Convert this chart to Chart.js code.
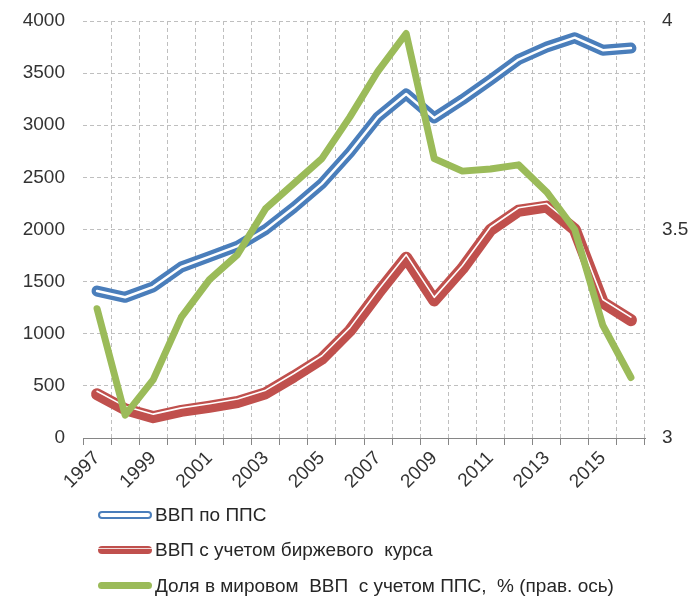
<!DOCTYPE html>
<html>
<head>
<meta charset="utf-8">
<script src="https://cdn.jsdelivr.net/npm/chart.js@4/dist/chart.umd.min.js"></script>
<style>
  body { margin: 0; background: #fff; }
  #wrap { position: relative; width: 691px; height: 598px; }
  #legend { position: absolute; left: 98px; top: 497px; font-family: "Liberation Sans", Arial, sans-serif; font-size: 19px; color: #262626; }
  .item { display: flex; align-items: center; height: 35.5px; }
  .swatch { width: 54px; margin-right: 3px; box-sizing: border-box; border-radius: 4px; }
  .blue { height: 8px; background: #fff; border: 2.5px solid #4A7EBB; }
  .red { height: 8px; background: linear-gradient(#C0504D 0 2px, #f2dcdb 2px 3.5px, #C0504D 3.5px); }
  .green { height: 7px; background: #9BBB59; }
</style>
</head>
<body>
<div id="wrap">
  <canvas id="myChart" width="691" height="598"></canvas>
  <div id="legend">
    <div class="item"><div class="swatch blue"></div><span>ВВП по ППС</span></div>
    <div class="item"><div class="swatch red"></div><span>ВВП с учетом биржевого&nbsp; курса</span></div>
    <div class="item"><div class="swatch green"></div><span>Доля в мировом&nbsp; ВВП&nbsp; с учетом ППС,&nbsp; % (прав. ось)</span></div>
  </div>
</div>
<script>
const years = ['1997', '1998', '1999', '2000', '2001', '2002', '2003', '2004', '2005', '2006',
               '2007', '2008', '2009', '2010', '2011', '2012', '2013', '2014', '2015', '2016'];
const gdpPpp = [1410, 1350, 1450, 1640, 1740, 1840, 2000, 2210, 2440, 2740,
                3080, 3300, 3070, 3245, 3435, 3630, 3750, 3840, 3720, 3740];
const gdpMarket = [420, 275, 200, 260, 300, 345, 430, 590, 760, 1030,
                   1390, 1730, 1320, 1625, 1995, 2180, 2220, 2000, 1300, 1130];
const worldShare = [3.31, 3.055, 3.14, 3.29, 3.38, 3.44, 3.55, 3.61, 3.67, 3.77,
                    3.88, 3.97, 3.67, 3.64, 3.645, 3.655, 3.59, 3.5, 3.27, 3.145];

const gridColor = '#BFBFBF';
const textColor = '#333333';
const font = { family: 'Liberation Sans, Arial, sans-serif', size: 19 };

// white stripe of the red line sits a bit above the middle
const shiftPlugin = {
    id: 'shift',
    beforeDatasetDraw(chart, args) {
        const ds = chart.data.datasets[args.index];
        if (ds.shiftY) {
            chart.ctx.save();
            chart.ctx.translate(0, ds.shiftY);
        }
    },
    afterDatasetDraw(chart, args) {
        const ds = chart.data.datasets[args.index];
        if (ds.shiftY) chart.ctx.restore();
    }
};

function lineSet(data, color, width, axis, order, extra) {
    return Object.assign({
        data: data,
        yAxisID: axis,
        borderColor: color,
        borderWidth: width,
        pointRadius: 0,
        borderCapStyle: 'round',
        borderJoinStyle: 'round',
        tension: 0,
        clip: false,
        order: order
    }, extra || {});
}

// keep the plot box where it is in the picture
function fixY(width) {
    return s => {
        s.width = width;
        s.paddingTop = 0;
        s.paddingBottom = 0;
    };
}

const ctx = document.getElementById('myChart').getContext('2d');
const myChart = new Chart(ctx, {
    type: 'line',
    data: {
        labels: years,
        datasets: [
            lineSet(gdpMarket, '#C0504D', 12, 'y', 5),
            lineSet(gdpMarket, '#ffffff', 1.6, 'y', 4, { shiftY: -3 }),
            lineSet(gdpPpp, '#4A7EBB', 11, 'y', 3),
            lineSet(gdpPpp, '#ffffff', 2.5, 'y', 2),
            lineSet(worldShare, '#9BBB59', 7, 'y1', 1)
        ]
    },
    options: {
        responsive: false,
        animation: false,
        layout: { padding: { top: 21, left: 0, right: 0, bottom: 0 } },
        plugins: { legend: { display: false }, tooltip: { enabled: false } },
        scales: {
            x: {
                offset: true,
                grid: {
                    offset: true,
                    color: c => c.index === 0 ? 'rgba(0,0,0,0)' : gridColor,
                    tickColor: '#868686',
                    tickLength: 7,
                    tickBorderDash: [],
                    tickBorderDashOffset: 0
                },
                border: { display: true, color: '#868686', dash: [4, 3] },
                ticks: {
                    autoSkip: false,
                    minRotation: 45,
                    maxRotation: 45,
                    padding: 2,
                    color: textColor,
                    font: font,
                    callback: (v, i) => i % 2 === 0 ? years[i] : ''
                },
                afterFit: s => { s.height = 160; s.paddingLeft = 0; s.paddingRight = 0; }
            },
            y: {
                position: 'left',
                min: 0,
                max: 4000,
                grid: { color: gridColor, drawTicks: false },
                border: { display: false, dash: [4, 3] },
                ticks: { stepSize: 500, padding: 18, color: textColor, font: font, callback: v => String(v) },
                afterFit: fixY(83)
            },
            y1: {
                position: 'right',
                min: 3,
                max: 4,
                grid: { drawOnChartArea: false, drawTicks: false },
                border: { display: false },
                ticks: { stepSize: 0.5, padding: 17, color: textColor, font: font, callback: v => String(v) },
                afterFit: fixY(46)
            }
        }
    },
    plugins: [shiftPlugin]
});
</script>
</body>
</html>
